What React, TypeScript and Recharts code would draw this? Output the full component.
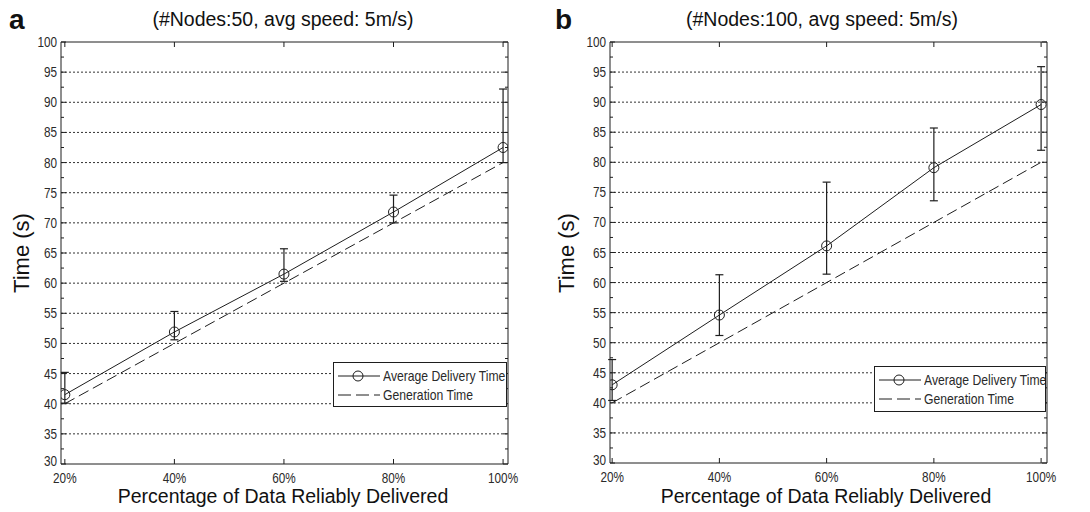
import React from 'react';
import { LineChart, Line, XAxis, YAxis, CartesianGrid, ErrorBar, Legend } from 'recharts';

// ---------- data ----------
const percentages = [20, 40, 60, 80, 100];
const xTickLabels = ['20%', '40%', '60%', '80%', '100%'];

// panel a (#Nodes:50)
const avgDeliveryA = [41.5, 51.9, 61.5, 71.8, 82.5];
const lowA = [40.1, 50.6, 60.3, 70.0, 80.0];
const highA = [45.2, 55.3, 65.7, 74.6, 92.2];
const generationA = [40, 50, 60, 70, 80];

// panel b (#Nodes:100)
const avgDeliveryB = [43.0, 54.6, 66.1, 79.1, 89.6];
const lowB = [40.4, 51.2, 61.4, 73.6, 82.0];
const highB = [47.2, 61.3, 76.7, 85.7, 95.9];
const generationB = [40, 50, 60, 70, 80];

const yMajorTicks = [30, 35, 40, 45, 50, 55, 60, 65, 70, 75, 80, 85, 90, 95, 100];
const yAllTicks = [30, 32.5, 35, 37.5, 40, 42.5, 45, 47.5, 50, 52.5, 55, 57.5, 60, 62.5, 65, 67.5, 70, 72.5, 75, 77.5, 80, 82.5, 85, 87.5, 90, 92.5, 95, 97.5, 100];
const gridValues = [35, 40, 45, 50, 55, 60, 65, 70, 75, 80, 85, 90, 95];

const titleA = '(#Nodes:50, avg speed: 5m/s)';
const titleB = '(#Nodes:100, avg speed: 5m/s)';
const xLabel = 'Percentage of Data Reliably Delivered';
const yLabel = 'Time (s)';
const seriesAvgName = 'Average Delivery Time';
const seriesGenName = 'Generation Time';

function buildData(avg: number[], low: number[], high: number[], gen: number[]) {
  return percentages.map((p, i) => ({
    pct: p,
    avg: avg[i],
    err: [avg[i] - low[i], high[i] - avg[i]],
    gen: gen[i],
  }));
}

const dataA = buildData(avgDeliveryA, lowA, highA, generationA);
const dataB = buildData(avgDeliveryB, lowB, highB, generationB);

// ---------- styles ----------
const INK = '#1e1e1e';
const TEXT = '#2a2a2a';
const SANS = "'Liberation Sans', Arial, Helvetica, sans-serif";
const NARROW_SCALE = 0.84;

const isMajor = (v: number) => yMajorTicks.includes(v);

const LeftTick = (props: any) => {
  const { x, y, payload } = props;
  const v = payload.value;
  const major = isMajor(v);
  const lift = v === yMajorTicks[0] ? -3 : 0;
  return (
    <g>
      <line x1={x} y1={y} x2={x + (major ? 5 : 3)} y2={y} stroke={INK} />
      {major && (
        <text
          transform={`translate(${x - 4},${y + lift}) scale(${NARROW_SCALE},1)`}
          dy="0.36em"
          textAnchor="end"
          fontSize={14}
          fontFamily={SANS}
          fill={TEXT}
        >
          {v}
        </text>
      )}
    </g>
  );
};

const RightTick = (props: any) => {
  const { x, y, payload } = props;
  const major = isMajor(payload.value);
  return <line x1={x} y1={y} x2={x - (major ? 5 : 3)} y2={y} stroke={INK} />;
};

const BottomTick = (props: any) => {
  const { x, y, payload } = props;
  const idx = percentages.indexOf(payload.value);
  return (
    <g>
      <line x1={x} y1={y} x2={x} y2={y - 5} stroke={INK} />
      <text
        transform={`translate(${x},${y + 18.5}) scale(${NARROW_SCALE},1)`}
        textAnchor="middle"
        fontSize={14}
        fontFamily={SANS}
        fill={TEXT}
      >
        {xTickLabels[idx]}
      </text>
    </g>
  );
};

const TopTick = (props: any) => {
  const { x, y } = props;
  return <line x1={x} y1={y} x2={x} y2={y + 5} stroke={INK} />;
};

const LegendContent = (props: any) => {
  const { payload } = props;
  return (
    <div
      style={{
        border: `1px solid ${INK}`,
        background: '#fff',
        width: '100%',
        height: '100%',
        boxSizing: 'border-box',
        fontFamily: SANS,
        fontSize: 14.5,
        color: TEXT,
        paddingTop: 3,
        overflow: 'hidden',
      }}
    >
      {(payload || []).map((entry: any) => {
        const dashed = entry.dataKey === 'gen';
        return (
          <div key={entry.value} style={{ display: 'flex', alignItems: 'center', height: 19 }}>
            <svg width={44} height={14} style={{ display: 'block', marginLeft: 3, flexShrink: 0 }}>
              <line x1={1} y1={7} x2={43} y2={7} stroke={INK} strokeDasharray={dashed ? '13 5' : undefined} />
              {!dashed && <circle cx={21} cy={7} r={5} fill="#fff" stroke={INK} />}
              {!dashed && <line x1={16} y1={7} x2={26} y2={7} stroke={INK} />}
            </svg>
            <span
              style={{
                marginLeft: 2,
                whiteSpace: 'nowrap',
                display: 'inline-block',
                transform: `scaleX(${NARROW_SCALE})`,
                transformOrigin: 'left center',
              }}
            >
              {entry.value}
            </span>
          </div>
        );
      })}
    </div>
  );
};

type PanelProps = {
  data: any[];
  left: number;
  margin: { top: number; right: number; bottom: number; left: number };
  xDomain: [number, number];
  legendPos: { left: number; top: number; width: number; height: number };
};

const Panel = ({ data, left, margin, xDomain, legendPos }: PanelProps) => (
  <div style={{ position: 'absolute', left, top: 0 }}>
    <LineChart width={545} height={512} data={data} margin={margin}>
      <CartesianGrid
        xAxisId="bottom"
        yAxisId="left"
        vertical={false}
        horizontalValues={gridValues}
        stroke="#333"
        strokeDasharray="2 2"
      />
      <XAxis
        xAxisId="bottom"
        dataKey="pct"
        type="number"
        domain={xDomain}
        ticks={percentages}
        interval={0}
        orientation="bottom"
        height={30}
        tickSize={0}
        tickMargin={0}
        tickLine={false}
        axisLine={{ stroke: INK }}
        tick={BottomTick}
        allowDataOverflow
      />
      <XAxis
        xAxisId="top"
        dataKey="pct"
        type="number"
        domain={xDomain}
        ticks={percentages}
        interval={0}
        orientation="top"
        height={5}
        tickSize={0}
        tickMargin={0}
        tickLine={false}
        axisLine={{ stroke: INK }}
        tick={TopTick}
        allowDataOverflow
      />
      <YAxis
        yAxisId="left"
        type="number"
        domain={[30, 100]}
        ticks={yAllTicks}
        interval={0}
        orientation="left"
        width={40}
        tickSize={0}
        tickMargin={0}
        tickLine={false}
        axisLine={{ stroke: INK }}
        tick={LeftTick}
        allowDataOverflow
      />
      <YAxis
        yAxisId="right"
        type="number"
        domain={[30, 100]}
        ticks={yAllTicks}
        interval={0}
        orientation="right"
        width={5}
        tickSize={0}
        tickMargin={0}
        tickLine={false}
        axisLine={{ stroke: INK }}
        tick={RightTick}
        allowDataOverflow
      />
      <Line
        xAxisId="bottom"
        yAxisId="left"
        dataKey="avg"
        name={seriesAvgName}
        stroke={INK}
        strokeWidth={1}
        dot={{ r: 5, fill: 'none', stroke: INK, strokeWidth: 1 }}
        activeDot={false}
        isAnimationActive={false}
      >
        <ErrorBar dataKey="err" direction="y" width={4} stroke={INK} strokeWidth={1.2} isAnimationActive={false} />
      </Line>
      <Line
        xAxisId="bottom"
        yAxisId="left"
        dataKey="gen"
        name={seriesGenName}
        stroke={INK}
        strokeWidth={1}
        strokeDasharray="11 5"
        dot={false}
        activeDot={false}
        isAnimationActive={false}
      />
      <Legend
        layout="horizontal"
        verticalAlign="middle"
        align="center"
        content={LegendContent}
        wrapperStyle={{ ...legendPos, position: 'absolute' }}
      />
    </LineChart>
  </div>
);

const textBase: React.CSSProperties = { position: 'absolute', whiteSpace: 'nowrap', color: '#111', lineHeight: 1 };

export default function App() {
  return (
    <div style={{ position: 'absolute', left: 0, top: 0, width: 1090, height: 512, background: '#fff', overflow: 'hidden' }}>
      <Panel
        data={dataA}
        left={0}
        margin={{ top: 37, right: 32, bottom: 18, left: 21 }}
        xDomain={[19.3, 100.9]}
        legendPos={{ left: 333, top: 362, width: 174, height: 45 }}
      />
      <Panel
        data={dataB}
        left={545}
        margin={{ top: 37, right: 38, bottom: 19, left: 25 }}
        xDomain={[19.6, 101.1]}
        legendPos={{ left: 329, top: 366, width: 172, height: 46 }}
      />

      {/* panel letters */}
      <div style={{ ...textBase, left: 9, top: 6, fontFamily: SANS, fontWeight: 700, fontSize: 28 }}>a</div>
      <div style={{ ...textBase, left: 555, top: 6, fontFamily: SANS, fontWeight: 700, fontSize: 28 }}>b</div>

      {/* titles */}
      <div style={{ ...textBase, left: 283, top: 10, transform: 'translateX(-50%)', fontFamily: SANS, fontSize: 19.5 }}>{titleA}</div>
      <div style={{ ...textBase, left: 822, top: 10, transform: 'translateX(-50%)', fontFamily: SANS, fontSize: 19.5 }}>{titleB}</div>

      {/* x labels */}
      <div style={{ ...textBase, left: 283, top: 487, transform: 'translateX(-50%)', fontFamily: SANS, fontSize: 19.5 }}>{xLabel}</div>
      <div style={{ ...textBase, left: 826, top: 487, transform: 'translateX(-50%)', fontFamily: SANS, fontSize: 19.5 }}>{xLabel}</div>

      {/* y labels */}
      <div style={{ ...textBase, left: 22, top: 253, transform: 'translate(-50%, -50%) rotate(-90deg)', fontFamily: SANS, fontSize: 22 }}>{yLabel}</div>
      <div style={{ ...textBase, left: 567, top: 253, transform: 'translate(-50%, -50%) rotate(-90deg)', fontFamily: SANS, fontSize: 22 }}>{yLabel}</div>
    </div>
  );
}
